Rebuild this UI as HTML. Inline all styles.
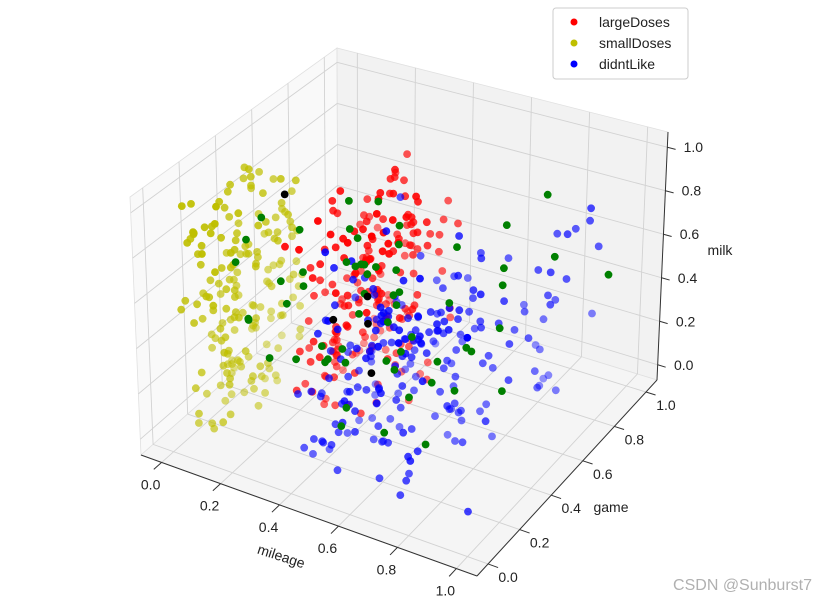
<!DOCTYPE html>
<html><head><meta charset="utf-8"><style>
html,body{margin:0;padding:0;background:#fff;width:827px;height:603px;overflow:hidden}
svg{display:block;font-family:"Liberation Sans","DejaVu Sans",sans-serif}
</style></head><body>
<svg id="chart" width="827" height="603" viewBox="0 0 827 603" xmlns="http://www.w3.org/2000/svg">
<g id="panes"></g>
<g id="grid"></g>
<g id="axes"></g>
<g id="points"></g>
<g>
<rect x="553" y="8" width="135" height="71" rx="3" fill="#fff" fill-opacity="0.8" stroke="#ccc"/>
<g><circle cx="574" cy="22" r="3.5" fill="#ff0000"/><text x="599" y="27" font-size="14" fill="#222">largeDoses</text></g>
<g><circle cx="574" cy="43" r="3.5" fill="#bfbf00"/><text x="599" y="48" font-size="14" fill="#222">smallDoses</text></g>
<g><circle cx="574" cy="64" r="3.5" fill="#0000ff"/><text x="599" y="69" font-size="14" fill="#222">didntLike</text></g>
</g>
<text x="281" y="561" font-size="14" fill="#222" text-anchor="middle" transform="rotate(18 281 557)">mileage</text>
<text x="611" y="512" font-size="14" fill="#222" text-anchor="middle">game</text>
<text x="720" y="255" font-size="14" fill="#222" text-anchor="middle">milk</text>
<text x="812" y="590" font-size="16" fill="#b0b0b0" text-anchor="end">CSDN @Sunburst7</text>
</svg>
<script>
const xTicks=[0,0.2,0.4,0.6,0.8,1.0];
const yTicks=[0,0.2,0.4,0.6,0.8,1.0];
const zTicks=[0,0.2,0.4,0.6,0.8,1.0];
const tickLabels=["0.0","0.2","0.4","0.6","0.8","1.0"];
// largeDoses (red) values in hundredths
const redX=[35,45,30,40,50,25,55,37,43,33,47,28,53,39,41,31,49,35,45,27,57,38,42,32,48,36,44,29,52,40,34,46,26,54,39,43,31,51,37,41,33,47,30,50,36,44,28,56,40,38,35,45,30,40,50,25,55,37,43,33,47,28,53,39,41,31,49,35,45,27,57,38,42,32,48,36,44,29,52,40,34,46,26,54,39,43,31,51,37,41,33,47,30,50,36,44,28,56,40,38];
const redY=[55,40,70,60,35,65,50,75,45,58,30,68,52,62,42,78,48,56,38,72,44,66,54,34,80,50,60,46,70,40,64,52,36,58,74,44,62,50,32,68,56,42,76,48,60,38,66,54,46,72,50,62,44,68,38,56,74,48,58,40,64,52,34,70,46,60,42,78,54,36,66,50,44,72,58,40,62,48,68,52,30,56,76,46,64,42,58,70,50,38,66,54,44,74,60,48,36,68,56,52];
const redZ=[50,70,30,85,60,40,95,20,75,55,10,65,45,90,35,80,25,60,70,15,50,88,40,5,72,58,30,82,48,62,18,92,38,68,52,28,78,44,8,66,56,96,22,74,34,84,46,12,64,54,42,76,26,86,58,32,68,48,98,18,60,38,80,50,24,72,44,90,14,62,36,78,52,28,66,46,84,20,58,40,70,10,54,88,32,74,48,64,26,82,42,56,16,68,36,94,50,30,76,60];
const redX2=[28,38,48,33,43,53,26,36,46,31,41,51,29,39,49,34,44,54,27,37,47,32,42,52,30,40,50,35,45,55,28,38,48,33,43,53,26,36,46,31,41,51,29,39,49,34,44,54,27,37,47,32,42,52,30,40,50,35,45,55,28,38,48,33,43,53,26,36,46,31,41,51,29,39,49,34,44,54,27,37,47,32,42,52,30,40,50,35,45,55,28,38,48,33,43,53,26,36,46,31];
const redY2=[30,45,60,25,50,40,65,35,55,20,48,38,58,28,68,42,32,52,22,62,46,36,56,26,44,34,54,24,64,40,50,30,60,20,46,36,66,26,42,56,32,52,38,28,62,48,22,58,44,34,54,40,30,50,24,64,36,46,26,56,42,32,60,38,48,28,52,22,62,44,34,54,40,30,58,24,46,36,66,26,50,42,32,56,38,28,48,60,44,34,52,22,40,62,30,54,36,46,26,50];
const redZ2=[15,45,75,30,60,90,5,40,70,20,55,85,10,35,65,95,25,50,80,12,42,72,28,58,88,8,38,68,18,48,78,22,52,82,2,32,62,92,14,44,74,26,56,86,6,36,66,16,46,76,24,54,84,4,34,64,94,20,50,80,10,40,70,30,60,90,12,42,72,22,52,82,2,32,62,18,48,78,8,38,68,28,58,88,14,44,74,24,54,84,6,36,66,16,46,76,26,56,86,50];
// smallDoses (yellow)
const yelX=[3,8,12,5,15,2,10,7,14,4,9,1,6,13,11,3,8,16,5,12,2,10,7,14,4,9,6,13,1,11,3,8,15,5,12,2,10,7,17,4,9,6,13,1,11,3,8,15,5,12,2,10,7,14,4,9,6,13,1,11,3,8,16,5,12,2,10,7,14,4,9,6,13,1,11,3,8,15,5,12,2,10,7,14,4,9,6,13,1,11];
const yelY=[15,34,45,8,26,41,52,19,30,11,49,22,38,4,43,28,16,36,51,9,31,21,46,13,39,25,6,54,33,19,42,10,27,49,18,37,7,30,45,22,15,34,52,12,40,25,48,4,36,21,43,16,28,51,9,33,24,39,13,46,19,31,42,6,27,49,15,34,10,45,22,37,30,18,52,7,40,25,48,12,33,21,43,4,28,36,16,51,24,39];
const yelZ=[10,30,80,55,20,95,40,65,5,75,50,25,90,60,15,85,35,70,45,100,8,52,28,78,62,18,88,42,12,68,32,58,82,22,48,72,3,38,92,55,25,65,15,80,45,35,70,10,60,90,20,50,75,30,85,40,5,68,95,28,58,18,78,48,8,88,38,62,22,72,42,98,12,52,32,82,2,65,45,25,92,55,15,75,35,60,85,50,28,70];
const yelX2=[6,11,2,14,8,4,12,1,9,15,5,10,3,13,7,16,2,11,6,14,4,9,12,1,8,15,3,10,5,13,7,2,11,6,14,4,9,12,1,8,17,3,10,5,13,7,2,11,6,14,4,9,12,1,8,15,3,10,5,13,7,2,11,6,14,4,9,12,1,8,15,3,10,5,13,7,2,11,6,14,4,9,12,1,8,16,3,10,5,13];
const yelY2=[5,20,35,50,12,28,44,8,24,40,55,16,32,48,4,20,36,52,10,26,42,14,30,46,2,18,34,50,22,38,6,26,44,12,32,50,18,36,8,28,46,14,34,52,24,40,4,20,38,10,30,48,16,42,26,6,36,54,22,12,44,30,2,18,40,28,50,8,34,20,46,14,38,24,52,10,32,42,4,26,48,16,36,22,12,44,30,6,40,18];
const yelZ2=[5,25,45,65,85,15,35,55,75,95,10,30,50,70,90,20,40,60,80,2,22,42,62,82,12,32,52,72,92,7,27,47,67,87,17,37,57,77,97,4,24,44,64,84,14,34,54,74,94,9,29,49,69,89,19,39,59,79,3,23,43,63,83,13,33,53,73,93,8,28,48,68,88,18,38,58,78,1,21,41,61,81,11,31,51,71,91,6,26,46];
// didntLike (blue)
const bluX=[50,70,85,60,95,45,75,90,55,65,80,100,48,72,88,58,92,62,78,52,68,84,96,44,74,86,56,66,82,98,50,70,90,60,76,46,64,94,54,80,88,42,72,58,84,66,96,52,78,62,90,48,70,86,56,74,100,64,82,46,92,60,76,54,68,88,50,80,66,94,58,72,84,44,62,90,76,52,98,70,56,82,64,48,86,74,60,92,68,54,78,96,50,66,84,62,72,88,58,80,46,70,94,56,76,64,90,52,82,68];
const bluY=[10,30,50,20,70,5,40,60,25,15,45,75,35,55,65,8,80,28,48,18,38,58,68,12,42,72,22,32,52,78,2,62,44,14,36,56,26,66,6,46,76,16,54,34,64,24,84,4,44,60,30,10,50,70,20,40,80,28,48,18,58,38,68,12,42,72,22,52,32,62,2,46,76,16,36,56,26,66,6,40,60,30,14,50,70,20,44,64,24,54,74,8,34,58,38,68,12,48,28,78,18,42,62,32,52,22,72,4,46,36];
const bluZ=[20,45,60,10,80,35,55,25,70,15,50,90,5,40,65,30,75,20,50,85,12,42,62,28,72,38,8,58,48,82,18,68,32,52,22,88,44,14,64,34,74,26,54,6,46,78,36,16,66,56,24,92,40,10,60,30,70,50,2,80,20,44,64,34,54,14,74,28,48,68,38,86,8,58,22,42,62,18,76,32,52,12,72,46,26,84,36,56,16,66,40,4,60,30,70,50,24,44,94,20,64,34,54,10,74,28,48,68,38,58];
const bluX2=[42,55,68,78,48,60,72,45,58,70,80,50,62,75,44,56,66,77,52,64,74,46,59,69,79,41,53,65,76,49,61,71,43,57,67,78,51,63,73,47,58,70,80,54,66,44,56,68,76,50,62,72,46,60,74,42,55,65,79,48,61,71,45,57,69,77,52,64,75,43,58,67,80,49,62,73,47,56,70,78,51,63,74,44,59,66,76,53,65,41,55,68,79,48,60,72,46,57,71,50,62,75,43,58,69,52,64,77,45,61];
const bluY2=[5,20,35,10,45,25,15,40,30,2,48,18,33,8,42,22,12,38,28,50,6,24,36,16,46,4,30,14,40,26,10,44,20,34,6,28,48,16,38,12,24,42,2,32,18,44,8,26,36,14,50,22,4,40,30,10,46,20,34,6,28,16,42,24,38,2,48,12,32,18,44,8,26,36,14,50,22,4,40,30,10,46,20,34,6,28,16,42,24,38,2,48,12,32,18,44,8,26,36,14,22,40,30,10,46,20,34,6,28,16];
const bluZ2=[10,30,50,20,40,60,5,25,45,65,15,35,55,8,28,48,68,18,38,58,3,23,43,63,13,33,53,70,12,32,52,22,42,62,7,27,47,67,17,37,57,2,22,42,62,12,32,52,6,26,46,66,16,36,56,4,24,44,64,14,34,54,9,29,49,69,19,39,59,1,21,41,61,11,31,51,7,27,47,67,17,37,57,3,23,43,63,13,33,53,8,28,48,68,18,38,58,5,25,45,65,15,35,55,10,30,50,20,40,60];
// extra (green / black)
const grnX=[5,10,15,30,35,40,45,50,55,60,25,20,48,62,70,75,80,85,90,98,52,38,42,58,65,8,28,33,72,88,12,18,22,35,42,48,55,62,68,75,38,45,52,58,28,32,65,72,82,15,25,50,44,36,60,70,5,40,55,47];
const grnY=[30,50,20,40,60,35,55,25,45,65,15,70,30,50,75,20,60,80,40,90,10,45,62,28,55,40,65,22,50,70,25,45,35,55,30,50,40,20,60,35,65,25,45,15,40,50,30,70,55,20,35,45,25,60,50,15,55,40,30,10];
const grnZ=[60,30,80,20,50,70,40,90,10,65,35,55,75,25,45,15,85,60,30,50,20,40,70,55,10,75,45,65,35,95,40,70,20,50,30,60,80,45,25,65,35,15,55,75,25,85,50,30,70,45,60,20,40,80,15,55,35,65,5,45];
const blkX=[10,20,45,50,35];
const blkY=[50,60,40,30,55];
const blkZ=[80,20,20,50,40];

const NS="http://www.w3.org/2000/svg";
const C={"000":[141,455],"100":[477,576],"010":[338,282],"110":[657,380],
"001":[130,197],"101":[470,285],"011":[337,48],"111":[668,132]};
function P(u,v,w){let x=0,y=0;for(const a of[0,1])for(const b of[0,1])for(const c of[0,1]){
const wt=(a?u:1-u)*(b?v:1-v)*(c?w:1-w);const p=C[""+a+b+c];x+=wt*p[0];y+=wt*p[1];}return[x,y];}
function B(d){return (d+0.07)/1.14;}
function line(g,a,b,stroke,sw,name){const l=document.createElementNS(NS,"line");
l.setAttribute("x1",a[0]);l.setAttribute("y1",a[1]);l.setAttribute("x2",b[0]);l.setAttribute("y2",b[1]);
l.setAttribute("stroke",stroke);l.setAttribute("stroke-width",sw);


g.appendChild(l);}
function poly(g,pts,fill,name){const p=document.createElementNS(NS,"polygon");
p.setAttribute("points",pts.map(q=>q.join(",")).join(" "));p.setAttribute("fill",fill);p.setAttribute("stroke","#e0e0e0");p.setAttribute("stroke-width","0.8");


g.appendChild(p);}
function text(g,x,y,s,name){const t=document.createElementNS(NS,"text");
t.setAttribute("x",x);t.setAttribute("y",y);t.setAttribute("font-size","14");t.setAttribute("fill","#222");t.setAttribute("text-anchor","middle");t.textContent=s;


g.appendChild(t);}
const panes=document.getElementById("panes");
poly(panes,[P(0,0,0),P(0,1,0),P(0,1,1),P(0,0,1)],"#f9f9f9","pane-left");
poly(panes,[P(0,1,0),P(1,1,0),P(1,1,1),P(0,1,1)],"#f2f2f2","pane-back");
poly(panes,[P(0,0,0),P(1,0,0),P(1,1,0),P(0,1,0)],"#f5f5f5","pane-floor");
const grid=document.getElementById("grid");const gc="#d2d2d2";
xTicks.forEach(t=>{const u=B(t);line(grid,P(u,0,0),P(u,1,0),gc,0.9,"grid-x-floor");line(grid,P(u,1,0),P(u,1,1),gc,0.9,"grid-x-back");});
yTicks.forEach(t=>{const v=B(t);line(grid,P(0,v,0),P(1,v,0),gc,0.9,"grid-y-floor");line(grid,P(0,v,0),P(0,v,1),gc,0.9,"grid-y-left");});
zTicks.forEach(t=>{const w=B(t);line(grid,P(0,0,w),P(0,1,w),gc,0.9,"grid-z-left");line(grid,P(0,1,w),P(1,1,w),gc,0.9,"grid-z-back");});
const axes=document.getElementById("axes");
line(axes,P(0,0,0),P(1,0,0),"#333",1,"x-axis-line");
line(axes,P(1,0,0),P(1,1,0),"#333",1,"y-axis-line");
line(axes,P(1,1,0),P(1,1,1),"#333",1,"z-axis-line");
xTicks.forEach((t,i)=>{const a=P(B(t),0,0),b=P(B(t),-0.04,0);line(axes,a,b,"#333",1,"x-tick");text(axes,a[0]-11,a[1]+27,tickLabels[i],"x-tick-label");});
yTicks.forEach((t,i)=>{const a=P(1,B(t),0),b=P(1.03,B(t),0);line(axes,a,b,"#333",1,"y-tick");text(axes,a[0]+20,a[1]+18,tickLabels[i],"y-tick-label");});
zTicks.forEach((t,i)=>{const a=P(1,1,B(t)),b=P(1.025,1,B(t));line(axes,a,b,"#333",1,"z-tick");text(axes,a[0]+26,a[1]+5,tickLabels[i],"z-tick-label");});
const pts=document.getElementById("points");
function series(xs,ys,zs,color,shade,name){
const n=Math.min(xs.length,ys.length,zs.length);const arr=[];
for(let i=0;i<n;i++){const x=xs[i]/100,y=ys[i]/100,z=zs[i]/100;arr.push({x,y,z,c:0.433*x-0.75*y+0.5*z});}
const cs=arr.map(a=>a.c);const mn=Math.min(...cs),mx=Math.max(...cs);
arr.sort((a,b)=>a.c-b.c);
arr.forEach(a=>{const s=P(B(a.x),B(a.y),B(a.z));const c=document.createElementNS(NS,"circle");
c.setAttribute("cx",s[0].toFixed(1));c.setAttribute("cy",s[1].toFixed(1));c.setAttribute("r","3.9");c.setAttribute("fill",color);
const al=shade?(0.4+0.6*(a.c-mn)/(mx-mn||1)):1;c.setAttribute("fill-opacity",al.toFixed(2));


pts.appendChild(c);});}
series(redX.concat(redX2),redY.concat(redY2),redZ.concat(redZ2),"#ff0000",true,"point-largedoses");
series(yelX.concat(yelX2),yelY.concat(yelY2),yelZ.concat(yelZ2),"#bfbf00",true,"point-smalldoses");
series(bluX.concat(bluX2),bluY.concat(bluY2),bluZ.concat(bluZ2),"#0000ff",true,"point-didntlike");
series(grnX,grnY,grnZ,"#008000",false,"point-green");
series(blkX,blkY,blkZ,"#000000",false,"point-black");
</script>
</body></html>
